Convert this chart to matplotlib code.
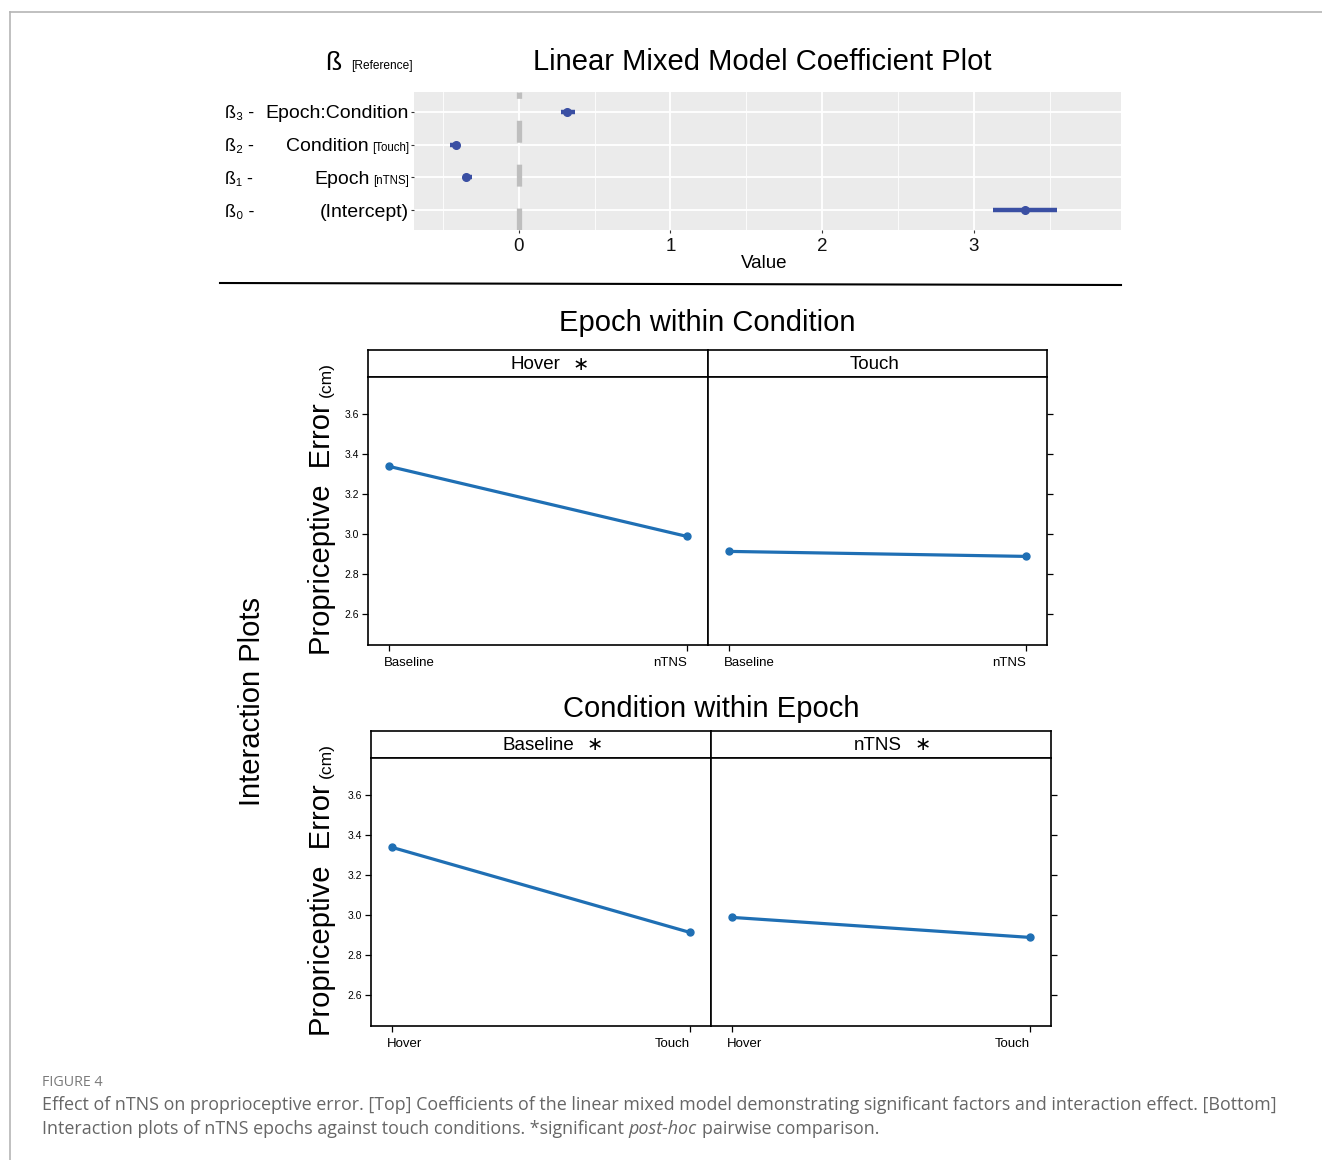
import matplotlib
matplotlib.use("Agg")
import matplotlib.pyplot as plt
from matplotlib.lines import Line2D
import numpy as np

plt.rcParams['font.family'] = ['Liberation Sans', 'DejaVu Sans']
plt.rcParams['lines.scale_dashes'] = False

# Coefficienti del modello
coef_terms = ["(Intercept)", "Epoch", "Condition", "Epoch:Condition"]
coef_levels = ["", "[nTNS]", "[Touch]", ""]
coef_betas = ["ß₀ -", "ß₁ -", "ß₂ -", "ß₃ -"]
coef_est = [3.335, -0.35, -0.415, 0.318]
coef_low = [3.125, -0.37, -0.45, 0.28]
coef_high = [3.545, -0.31, -0.39, 0.37]
value_ticks = [0, 1, 2, 3]
value_minor = [-0.5, 0.5, 1.5, 2.5, 3.5]

# Medie dell'errore propriocettivo (cm)
epochs = ["Baseline", "nTNS"]
conditions = ["Hover", "Touch"]
err_hover = [3.34, 2.99]     # Baseline, nTNS
err_touch = [2.915, 2.89]    # Baseline, nTNS
err_ticks = [2.6, 2.8, 3.0, 3.2, 3.4, 3.6]
cond_sig = [True, False]     # Hover, Touch
epoch_sig = [True, True]     # Baseline, nTNS

BLUE_COEF = "#3a4fa3"
BLUE_LINE = "#1f6fb4"

W, H = 1322, 1160
fig = plt.figure(figsize=(W / 100, H / 100), dpi=100)
renderer = fig.canvas.get_renderer()


def put(x, y, s, **kw):
    return fig.text(x / W, 1 - y / H, s, **kw)


def box(l, t, r, b):
    return [l / W, 1 - b / H, (r - l) / W, (b - t) / H]


def wpx(t):
    return t.get_window_extent(renderer).width


def hpx(t):
    return t.get_window_extent(renderer).height


def hline(x0, y0, x1, y1, **kw):
    fig.add_artist(Line2D([x0 / W, x1 / W], [1 - y0 / H, 1 - y1 / H], **kw))


# cornice della figura
hline(10, 12, 1322, 12, color="#b5b5b5", lw=1.2)
hline(10, 12, 10, 1160, color="#b5b5b5", lw=1.2)

# ---------------- Coefficient plot ----------------
ax = fig.add_axes(box(414, 92, 1121, 230))
ax.set_facecolor("#EBEBEB")
rows = np.arange(1, len(coef_terms) + 1)
ax.set_xlim(-0.69, 3.97)
ax.set_ylim(0.4, 4.6)
ax.set_xticks(value_ticks)
ax.set_xticks(value_minor, minor=True)
ax.set_yticks(rows)
ax.set_yticklabels([""] * len(rows))
ax.set_xticklabels([str(v) for v in value_ticks], fontsize=13.5, color="#111111")
ax.grid(which="major", color="white", lw=1.3)
ax.grid(which="minor", axis="x", color="white", lw=0.6)
ax.set_axisbelow(True)
for s in ax.spines.values():
    s.set_visible(False)
ax.tick_params(which="major", length=2.5, width=0.8, color="#333333", pad=3)
ax.tick_params(which="minor", length=0)

ax.axvline(0, color="#BEBEBE", lw=3.8, dashes=(15.8, 15.8), dash_capstyle="butt", zorder=1.5)
ax.hlines(rows, coef_low, coef_high, color=BLUE_COEF, lw=3.2, zorder=3)
ax.plot(coef_est, rows, "o", color=BLUE_COEF, ms=5.5, zorder=4)

for r, term, lev, beta in zip(rows, coef_terms, coef_levels, coef_betas):
    y = 230 - (r - 0.4) / 4.2 * 138 + 6.5
    x_end = 409
    if lev:
        small = put(x_end, y, lev, fontsize=8.3, ha="right", va="baseline")
        x_end = x_end - wpx(small) - 3
    put(x_end, y, term, fontsize=14, ha="right", va="baseline")
    put(225, y, beta, fontsize=13, ha="left", va="baseline")

put(325, 70, "ß", fontsize=19, ha="left", va="baseline")
put(351, 69, "[Reference]", fontsize=8.6, ha="left", va="baseline")
put(762, 62, "Linear Mixed Model Coefficient Plot", fontsize=21, ha="center", va="center")
put(764, 263, "Value", fontsize=13.5, ha="center", va="center")

hline(220, 283, 1121, 285, color="black", lw=1.5)

# ---------------- Interaction plots ----------------


def interaction(title, title_y, strip_top, left, mid, right, groups, sig, xlabels, series):
    panel_top = strip_top + 27
    panel_bot = panel_top + 268
    put((left + right) / 2, title_y, title, fontsize=21, ha="center", va="center")
    edges = [(left, mid), (mid, right)]
    for i, ((x0, x1), name, star, vals) in enumerate(zip(edges, groups, sig, series)):
        sax = fig.add_axes(box(x0, strip_top, x1, panel_top))
        sax.set_xticks([])
        sax.set_yticks([])
        for s in sax.spines.values():
            s.set_linewidth(1.2)
        cx = (x0 + x1) / 2 - 3
        t = put(cx, strip_top + 14, name, fontsize=13.5, ha="center", va="center")
        if star:
            put(cx + wpx(t) / 2 + 13, strip_top + 15, "∗", fontsize=14, ha="left", va="center")

        pax = fig.add_axes(box(x0, panel_top, x1, panel_bot))
        pax.plot([1, 2], vals, "-o", color=BLUE_LINE, lw=2.3, ms=5)
        pax.set_xlim(0.929, 2.071)
        pax.set_ylim(2.447, 3.787)
        pax.set_yticks(err_ticks)
        pax.set_xticks([1, 2])
        pax.set_xticklabels(["", ""])
        for s in pax.spines.values():
            s.set_linewidth(1.2)
        pax.tick_params(direction="out", length=4.5, width=0.9, color="black")
        if i == 0:
            pax.set_yticklabels([f"{v:.1f}" for v in err_ticks], fontsize=7.5)
            pax.tick_params(axis="y", pad=2)
        else:
            pax.yaxis.tick_right()
            pax.set_yticklabels([""] * len(err_ticks))
        pax.annotate(xlabels[0], xy=(1, 0), xycoords=("data", "axes fraction"),
                     xytext=(-4, -13), textcoords="offset points",
                     ha="left", va="center", fontsize=9.5)
        pax.annotate(xlabels[1], xy=(2, 0), xycoords=("data", "axes fraction"),
                     xytext=(0, -13), textcoords="offset points",
                     ha="right", va="center", fontsize=9.5)

    main = put(336, panel_bot + 10, "Propriceptive  Error", rotation=90, fontsize=21,
               ha="right", va="bottom")
    put(334, panel_bot + 10 - hpx(main) - 6, "(cm)", rotation=90, fontsize=12.5,
        ha="right", va="bottom")


interaction("Epoch within Condition", 323, 350, 368, 708, 1047,
            conditions, cond_sig, epochs, [err_hover, err_touch])
interaction("Condition within Epoch", 709, 731, 371, 711, 1051,
            epochs, epoch_sig, conditions,
            [[err_hover[0], err_touch[0]], [err_hover[1], err_touch[1]]])

put(252, 701, "Interaction Plots", rotation=90, fontsize=21, ha="center", va="center")

# ---------------- Didascalia ----------------
cap_font = ["Open Sans", "DejaVu Sans"]
cap_color = "#666666"
line1 = ("Effect of nTNS on proprioceptive error. [Top] Coefficients of the linear mixed model "
         "demonstrating significant factors and interaction effect. [Bottom]")
probe = put(0, 0, line1, fontsize=13, family=cap_font)
cap_size = 13 * (1274 - 42) / wpx(probe)
probe.remove()

put(42, 1082, "FIGURE 4", fontsize=cap_size * 0.8, family=cap_font, color="#7a7a7a", va="center")
put(42, 1105, line1, fontsize=cap_size, family=cap_font, color=cap_color, va="center")

sp_a = put(0, 0, "x x", fontsize=cap_size, family=cap_font)
sp_b = put(0, 0, "xx", fontsize=cap_size, family=cap_font)
space = wpx(sp_a) - wpx(sp_b)
sp_a.remove()
sp_b.remove()

x = 42
for piece, style in [("Interaction plots of nTNS epochs against touch conditions. *significant", "normal"),
                     ("post-hoc", "italic"),
                     ("pairwise comparison.", "normal")]:
    t = put(x, 1129, piece, fontsize=cap_size, family=cap_font, color=cap_color,
            va="center", style=style)
    x += wpx(t) + space

fig.savefig("out.png", dpi=100)
